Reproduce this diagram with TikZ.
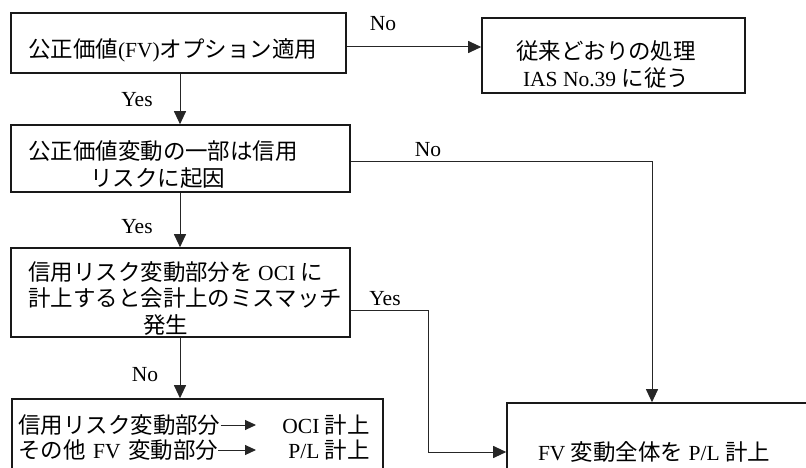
\documentclass[tikz,border=0pt]{standalone}
\usepackage{fontspec}
\setmainfont{Liberation Serif}
\newfontfamily\jp[Scale=1.045]{Noto Sans CJK JP}
\usetikzlibrary{arrows.meta,calc}
\newcommand\J[1]{{\jp #1}}
\begin{document}
\begin{tikzpicture}[x=1pt,y=-1pt,
  box/.style args={#1/#2}{draw=black!90, line width=1.6pt, minimum width=#1pt, minimum height=#2pt, inner sep=0pt},
  txt/.style={font=\fontsize{21.5}{26.5}\selectfont, inner sep=0pt},
  arr/.style={draw=black!85, line width=1pt, -{Triangle[length=13pt,width=12pt]}},
  sarr/.style={draw=black!85, line width=1pt, -{Triangle[length=11pt,width=10pt]}}]
\useasboundingbox (0,0) rectangle (806,468);
\clip (0,0) rectangle (806,468);
% boxes
\node[box=335/60] (b1) at (178.5,43) {};
\node[box=263/75] (r) at (613.5,55.5) {};
\node[box=339/67] (b2) at (180.5,158.5) {};
\node[box=339/89] (b3) at (180.5,292.5) {};
\node[box=371/81] (b4) at (197.5,439.5) {};
\node[box=323/97] (fv) at (668.5,451.5) {};
% texts
\node[txt, anchor=west] (t1) at (28,50) {\J{公正価値}(FV)\J{オプション適用}};
\node[txt, align=center] (tr) at (606,64.5) {\J{従来どおりの処理}\\IAS No.39 \J{に従う}};
\node[txt, align=left, anchor=west] (t2) at (28,164.5) {\J{公正価値変動の一部は信用}\\\hspace*{62pt}\J{リスクに起因}};
\node[txt, align=left, anchor=west] (t3) at (28,298.5) {\J{信用リスク変動部分を} OCI \J{に}\\\J{計上すると会計上のミスマッチ}\\\hspace*{115pt}\J{発生}};
\node[txt, anchor=west] (l1) at (18,425) {\J{信用リスク変動部分}};
\node[txt, anchor=west] (l2) at (18,450) {\J{その他}\hspace{0.35em}FV\hspace{0.35em}\J{変動部分}};
\node[txt, anchor=east] (r1) at (370,425) {OCI \J{計上}};
\node[txt, anchor=east] (r2) at (370,450) {P/L \J{計上}};
\node[txt] (fvt) at (654,452) {FV \J{変動全体を} P/L \J{計上}};
% labels
\node[txt] (no1) at (383,24) {No};
\node[txt] (yes1) at (137,100) {Yes};
\node[txt] (no2) at (428,150) {No};
\node[txt] (yes2) at (137,227) {Yes};
\node[txt] (yes3) at (385,299) {Yes};
\node[txt] (no3) at (145,375) {No};
% connectors
\coordinate (sp) at (180,0);
\draw[arr] (sp |- b1.south) -- (sp |- b2.north);
\draw[arr] (sp |- b2.south) -- (sp |- b3.north);
\draw[arr] (sp |- b3.south) -- (sp |- b4.north);
\coordinate (c1) at (0,47);
\draw[arr] (c1 -| b1.east) -- (c1 -| r.west);
\coordinate (c2) at (652,162);
\draw[arr] (c2 -| b2.east) -- (c2) -- (c2 |- fv.north);
\coordinate (c3) at (428,310);
\coordinate (c4) at (428,452);
\draw[arr] (c3 -| b3.east) -- (c3) -- (c4) -- (c4 -| fv.west);
\coordinate (ae) at (256,0);
\draw[sarr] (l1.east) -- (ae |- l1.east);
\draw[sarr] (l2.east) -- (ae |- l2.east);
\end{tikzpicture}
\end{document}
